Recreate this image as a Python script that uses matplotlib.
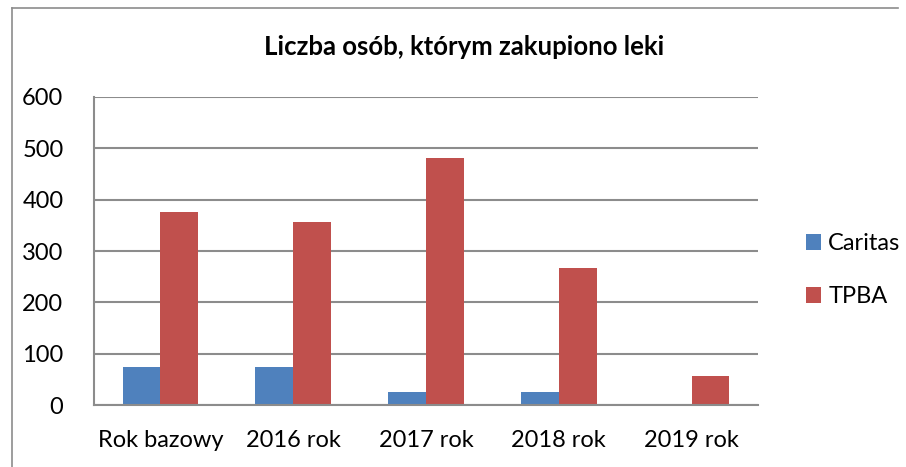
import matplotlib.pyplot as plt
import numpy as np

# dane
kategorie = ["Rok bazowy", "2016 rok", "2017 rok", "2018 rok", "2019 rok"]
caritas = [75, 75, 25, 25, 0]
tpba = [375, 356, 481, 266, 57]

plt.rcParams['font.family'] = ['Lato', 'DejaVu Sans']

fig = plt.figure(figsize=(9.06, 4.67), dpi=100)
ax = fig.add_axes([94/906, 1 - 405/467, (758-94)/906, (405-97)/467])

x = np.arange(len(kategorie))
w = 0.285
ax.bar(x - w/2, caritas, w, color="#4F81BD", label="Caritas")
ax.bar(x + w/2, tpba, w, color="#C0504D", label="TPBA")

ax.set_xlim(-0.5, len(kategorie) - 0.5)
ax.set_ylim(0, 600)
ax.set_yticks(range(0, 601, 100))
ax.yaxis.grid(True, color="#8c8c8c", linewidth=1.5)
ax.set_axisbelow(True)
for s in ["top", "right"]:
    ax.spines[s].set_visible(False)
for s in ["left", "bottom"]:
    ax.spines[s].set_color("#8c8c8c")
    ax.spines[s].set_linewidth(1.5)
ax.tick_params(length=0, labelsize=17)
ax.set_xticks(x)
ax.set_xticklabels(kategorie)
ax.tick_params(axis="x", pad=18)
ax.tick_params(axis="y", pad=22)

fig.text(464/906, 1 - 47/467, "Liczba osób, którym zakupiono leki",
         ha="center", va="center", fontsize=18.5, fontweight="bold")

ax.legend(loc="center left", bbox_to_anchor=(794/906, 1 - 270/467),
          bbox_transform=fig.transFigure, frameon=False, fontsize=17,
          handlelength=0.65, handleheight=0.65, handletextpad=0.3,
          labelspacing=1.35, borderpad=0)

# ramka wykresu
fig.add_artist(plt.Line2D([12/906, 12/906], [0, 1 - 8/467], color="#8c8c8c", lw=1.2))
fig.add_artist(plt.Line2D([12/906, 898/906], [1 - 8/467, 1 - 8/467], color="#8c8c8c", lw=1.2))

fig.savefig("out.png", dpi=100)
